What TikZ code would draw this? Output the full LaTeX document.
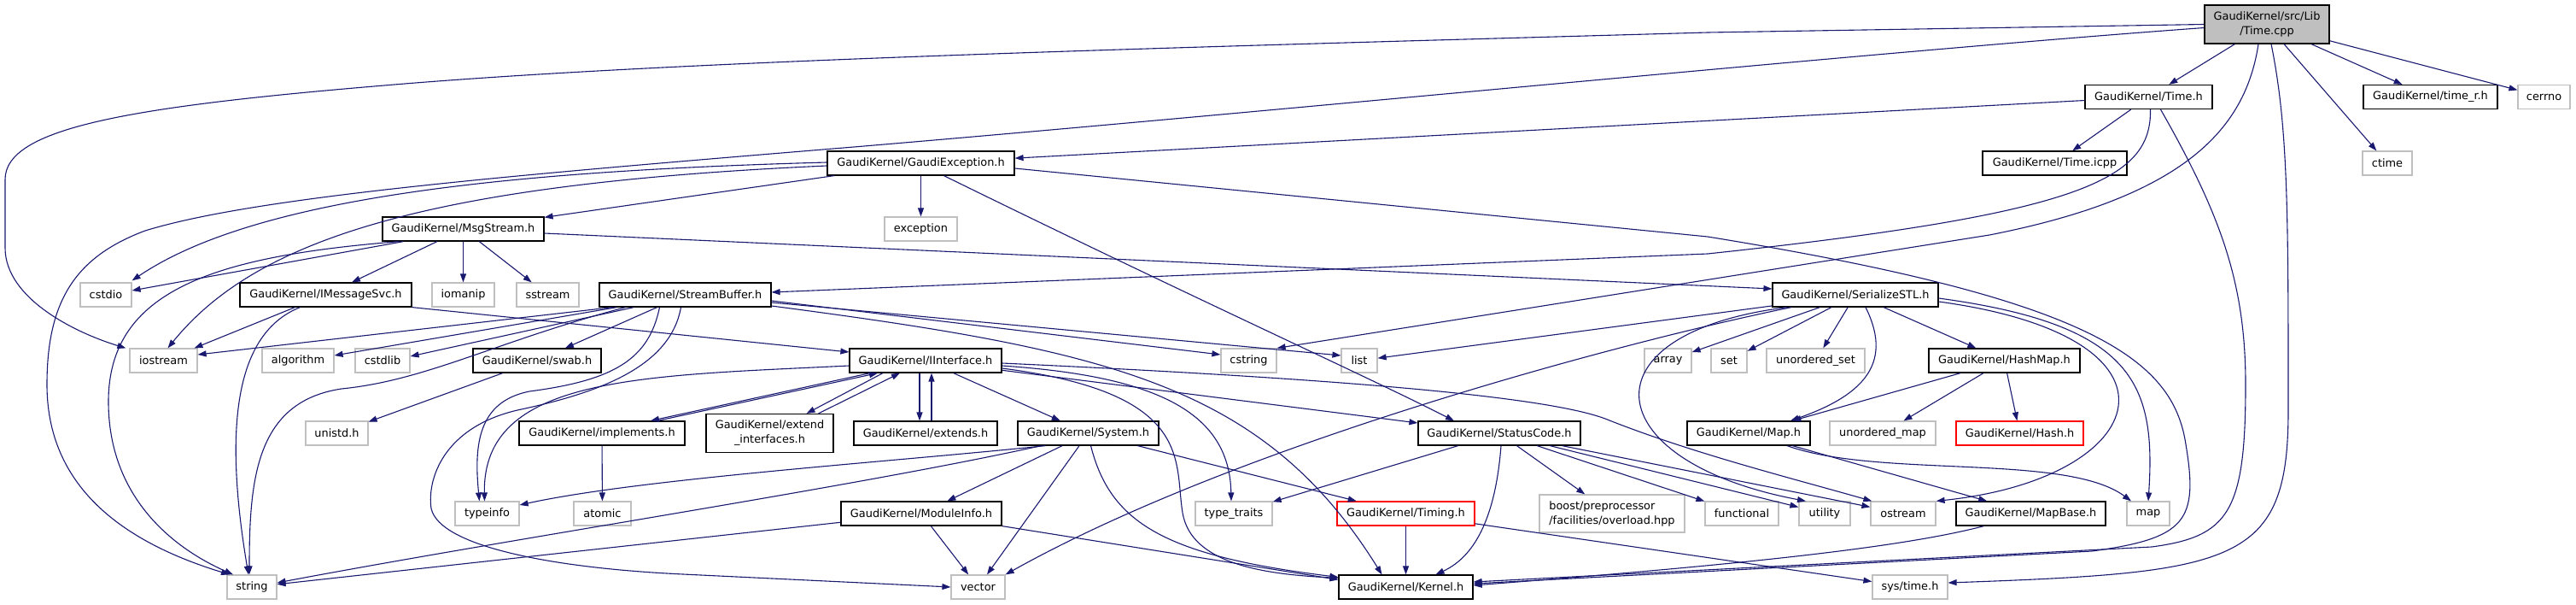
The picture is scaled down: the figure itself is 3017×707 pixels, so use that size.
\documentclass[tikz,border=0pt]{standalone}
\usepackage{fontspec}
\setmainfont{DejaVu Sans}
\usetikzlibrary{arrows.meta}
\definecolor{edgeblue}{HTML}{191970}
\definecolor{boxgrey}{HTML}{BFBFBF}
\newcommand\labelfont{\fontsize{12.9}{17}\selectfont}
\tikzset{
	box/.style={line width=1.2pt, fill=white, minimum height=28pt, inner sep=0pt, font=\labelfont, align=center},
	docnode/.style={box, draw=black},
	sysnode/.style={box, draw=boxgrey},
	rednode/.style={box, draw=red},
	rootnode/.style={box, draw=black, fill=boxgrey, minimum height=45pt},
	dep/.style={draw=edgeblue, line width=1.1pt, -{Triangle[length=10pt,width=7pt]}}
}

\begin{document}
\begin{tikzpicture}[x=1pt, y=-1pt]
		%%%%% START %%%%%
		\useasboundingbox (0,0) rectangle (3017,707);
		
		\node[rootnode, minimum width=146pt] (rt) at (2655,28.5) {GaudiKernel/src/Lib\\/Time.cpp};
		
		\node[docnode, minimum width=149pt] (timeh) at (2516.5,113.5) {GaudiKernel/Time.h};
		\node[docnode, minimum width=157pt] (timer) at (2846.5,113.5) {GaudiKernel/time\_r.h};
		\node[sysnode, minimum width=61pt] (cerrno) at (2979.5,113.5) {cerrno};
		
		\node[docnode, minimum width=169pt] (ticpp) at (2406.5,191) {GaudiKernel/Time.icpp};
		\node[sysnode, minimum width=58pt] (ctime) at (2796,191) {ctime};
		\node[docnode, minimum width=219pt] (ge) at (1078.5,191) {GaudiKernel/GaudiException.h};
		
		\node[docnode, minimum width=189pt] (msg) at (542.5,268) {GaudiKernel/MsgStream.h};
		\node[sysnode, minimum width=85pt] (exc) at (1078.5,268) {exception};
		
		\node[sysnode, minimum width=60pt] (cstdio) at (124,345) {cstdio};
		\node[docnode, minimum width=201pt] (ims) at (381.5,345) {GaudiKernel/IMessageSvc.h};
		\node[sysnode, minimum width=73pt] (iomanip) at (542.5,345) {iomanip};
		\node[sysnode, minimum width=73pt] (sstream) at (641.5,345) {sstream};
		\node[docnode, minimum width=201pt] (sb) at (802.5,345) {GaudiKernel/StreamBuffer.h};
		\node[docnode, minimum width=194pt] (sstl) at (2173,345) {GaudiKernel/SerializeSTL.h};
		
		\node[sysnode, minimum width=79pt] (iostream) at (191.5,422) {iostream};
		\node[sysnode, minimum width=84pt] (algo) at (349,422) {algorithm};
		\node[sysnode, minimum width=64pt] (cstdlib) at (448,422) {cstdlib};
		\node[docnode, minimum width=150pt] (swab) at (629,422) {GaudiKernel/swab.h};
		\node[docnode, minimum width=178pt] (ii) at (1084,422) {GaudiKernel/IInterface.h};
		\node[sysnode, minimum width=65pt] (cstring) at (1462.5,422) {cstring};
		\node[sysnode, minimum width=42pt] (list) at (1592,422) {list};
		\node[sysnode, minimum width=55pt] (array) at (1953.5,422) {array};
		\node[sysnode, minimum width=42pt] (set) at (2025,422) {set};
		\node[sysnode, minimum width=115pt] (uset) at (2126.5,422) {unordered\_set};
		\node[docnode, minimum width=177pt] (hmap) at (2347.5,422) {GaudiKernel/HashMap.h};
		
		\node[sysnode, minimum width=73pt] (unistd) at (394.5,507) {unistd.h};
		\node[docnode, minimum width=194pt] (impl) at (705,507) {GaudiKernel/implements.h};
		\node[docnode, minimum width=149pt, minimum height=45pt] (extif) at (901.5,507) {GaudiKernel/extend\\\_interfaces.h};
		\node[docnode, minimum width=168pt] (extends) at (1084,507) {GaudiKernel/extends.h};
		\node[docnode, minimum width=165pt] (sys) at (1274.5,507) {GaudiKernel/System.h};
		\node[docnode, minimum width=190pt] (sc) at (1756,507) {GaudiKernel/StatusCode.h};
		\node[docnode, minimum width=144pt] (maph) at (2048,507) {GaudiKernel/Map.h};
		\node[sysnode, minimum width=124pt] (umap) at (2205,507) {unordered\_map};
		\node[rednode, minimum width=149pt] (hash) at (2365.5,507) {GaudiKernel/Hash.h};
		
		\node[sysnode, minimum width=75pt] (typeinfo) at (570.5,601) {typeinfo};
		\node[sysnode, minimum width=67pt] (atomic) at (705.5,601) {atomic};
		\node[docnode, minimum width=188pt] (mi) at (1079,601) {GaudiKernel/ModuleInfo.h};
		\node[sysnode, minimum width=90pt] (ttraits) at (1445,601) {type\_traits};
		\node[rednode, minimum width=161pt] (timing) at (1646.5,601) {GaudiKernel/Timing.h};
		\node[sysnode, minimum width=170pt, minimum height=44pt, align=left] (boost) at (1888,601) {boost/preprocessor\\/facilities/overload.hpp};
		\node[sysnode, minimum width=86pt] (func) at (2040,601) {functional};
		\node[sysnode, minimum width=60pt] (utility) at (2137,601) {utility};
		\node[sysnode, minimum width=76pt] (ostream) at (2229,601) {ostream};
		\node[docnode, minimum width=175pt] (mapbase) at (2378.5,601) {GaudiKernel/MapBase.h};
		\node[sysnode, minimum width=50pt] (map) at (2516,601) {map};
		
		\node[sysnode, minimum width=58pt] (string) at (295,687) {string};
		\node[sysnode, minimum width=63pt] (vector) at (1145.5,687) {vector};
		\node[docnode, minimum width=157pt] (kernel) at (1646.5,687) {GaudiKernel/Kernel.h};
		\node[sysnode, minimum width=88pt] (systime) at (2237,687) {sys/time.h};
		
		% Time.cpp
		\draw[dep] (rt) -- (timeh);
		\draw[dep] (rt) -- (ctime);
		\draw[dep] (rt) -- (timer);
		\draw[dep] (rt) -- (cerrno);
		\draw[dep] (rt.west) -- (2000,38) .. controls (1400,55) and (800,70) .. (450,100) .. controls (150,125) and (6,150) .. (6,210) -- (6,290) .. controls (6,350) and (90,390) .. ([xshift=-4pt]iostream.north west);
		\draw[dep] ([yshift=-4pt]rt.west) .. controls (2200,60) and (1500,130) .. (1000,172) .. controls (600,205) and (300,230) .. (170,270) .. controls (90,300) and (55,350) .. (55,450) .. controls (55,560) and (130,630) .. ([xshift=-26pt]string.north);
		\draw[dep] ([xshift=-10pt]rt.south) .. controls (2630,150) and (2560,230) .. (2330,275) -- (cstring.north east);
		\draw[dep] ([xshift=5pt]rt.south) .. controls (2680,150) and (2680,250) .. (2680,480) .. controls (2680,660) and (2620,670) .. ([yshift=5pt]systime.east);
		
		% Time.h
		\draw[dep] (timeh) -- (ge);
		\draw[dep] (timeh) -- (ticpp);
		\draw[dep] ([xshift=2pt]timeh.south) .. controls (2520,210) and (2440,250) .. (2000,297) -- ([yshift=3pt]sb.east);
		\draw[dep] ([xshift=14pt]timeh.south) .. controls (2600,250) and (2630,330) .. (2630,450) .. controls (2630,600) and (2610,628) .. (2520,640) -- ([yshift=6pt]kernel.east);
		
		% GaudiException.h
		\draw[dep] ([yshift=1pt]ge.west) .. controls (600,200) and (300,230) .. ([yshift=2pt]cstdio.north east);
		\draw[dep] ([yshift=-3pt]ge.west) .. controls (500,215) and (300,280) .. ([xshift=5pt]iostream.north);
		\draw[dep] (ge) -- (msg);
		\draw[dep] (ge) -- (exc);
		\draw[dep] ([xshift=27pt]ge.south) .. controls (1400,350) and (1600,440) .. ([xshift=-53pt]sc.north);
		\draw[dep] ([yshift=-6pt]ge.east) -- (2000,277) .. controls (2450,350) and (2545,420) .. (2560,520) .. controls (2575,610) and (2560,630) .. (2450,645) -- ([yshift=4pt]kernel.east);
		
		% MsgStream.h
		\draw[dep] ([xshift=-70pt]msg.south) -- ([yshift=5pt]cstdio.east);
		\draw[dep] ([xshift=-75pt]msg.south) .. controls (250,300) and (127,340) .. (127,470) .. controls (127,580) and (200,640) .. ([xshift=-22pt]string.north);
		\draw[dep] (msg) -- (ims);
		\draw[dep] (msg) -- (iomanip);
		\draw[dep] (msg) -- (sstream);
		\draw[dep] ([yshift=-5pt]msg.east) -- ([yshift=7pt]sstl.west);
		
		% IMessageSvc.h
		\draw[dep] (ims) -- (iostream);
		\draw[dep] ([xshift=-30pt]ims.south) .. controls (275,390) and (262,500) .. ([xshift=-4pt]string.north);
		\draw[dep] (ims.south east) -- ([yshift=10pt]ii.west);
		
		% StreamBuffer.h
		\draw[dep] ([xshift=-85pt]sb.south) -- ([yshift=7pt]iostream.east);
		\draw[dep] ([xshift=-80pt]sb.south) -- ([yshift=6pt]algo.east);
		\draw[dep] ([xshift=-60pt]sb.south) -- ([yshift=5pt]cstdlib.east);
		\draw[dep] ([xshift=-70pt]sb.south) .. controls (580,400) and (500,445) .. (400,455) .. controls (300,470) and (292,560) .. ([xshift=-3pt]string.north);
		\draw[dep] (sb) -- (swab);
		\draw[dep] ([xshift=-30pt]sb.south) .. controls (760,420) and (720,445) .. (620,458) .. controls (560,470) and (555,520) .. ([xshift=-9pt]typeinfo.north);
		\draw[dep] ([xshift=-5pt]sb.south) .. controls (785,430) and (700,460) .. (606,480) .. controls (520,500) and (500,560) .. (505,595) .. controls (515,640) and (650,665) .. (800,672) -- (vector.west);
		\draw[dep] ([yshift=-7pt]sb.east) -- ([yshift=7pt]cstring.west);
		\draw[dep] ([yshift=-9pt]sb.east) -- ([yshift=6pt]list.west);
		\draw[dep] ([yshift=-13pt]sb.east) .. controls (1300,410) and (1480,450) .. ([xshift=-28pt]kernel.north);
		
		% IInterface.h
		\draw[dep] ([xshift=-65pt]ii.south) -- ([xshift=57pt]impl.north);
		\draw[dep] ([xshift=65pt]impl.north) -- ([xshift=-56pt]ii.south);
		\draw[dep] ([xshift=-50pt]ii.south) -- ([xshift=43pt]extif.north);
		\draw[dep] ([xshift=57pt]extif.north) -- ([xshift=-30pt]ii.south);
		\draw[dep] ([xshift=-7pt]ii.south) -- ([xshift=-7pt]extends.north);
		\draw[dep] ([xshift=7pt]extends.north) -- ([xshift=7pt]ii.south);
		\draw[dep] (ii) -- (sys);
		\draw[dep] (ii) -- (sc);
		\draw[dep] ([yshift=-6pt]ii.east) .. controls (1350,440) and (1440,480) .. ([xshift=-3pt]ttraits.north);
		\draw[dep] ([yshift=-9pt]ii.east) .. controls (1400,460) and (1375,540) .. (1385,600) .. controls (1395,660) and (1480,672) .. ([yshift=-4pt]kernel.north west);
		\draw[dep] ([yshift=-3pt]ii.east) .. controls (1500,440) and (1800,460) .. (1880,490) .. controls (1980,530) and (2100,560) .. ([xshift=2pt]ostream.north west);
		\draw[dep] ([yshift=-6pt]ii.west) .. controls (750,440) and (565,440) .. ([xshift=-3pt]typeinfo.north);
		
		% System.h
		\draw[dep] ([xshift=-50pt]sys.south) .. controls (1050,540) and (750,560) .. ([yshift=10pt]typeinfo.east);
		\draw[dep] ([xshift=-55pt]sys.south) .. controls (1000,570) and (600,630) .. ([yshift=5pt]string.east);
		\draw[dep] (sys) -- (mi);
		\draw[dep] (sys) -- (vector);
		\draw[dep] ([xshift=3pt]sys.south) .. controls (1300,610) and (1360,650) .. ([yshift=-3pt]kernel.north west);
		\draw[dep] (sys) -- (timing);
		
		% ModuleInfo.h
		\draw[dep] (mi) -- (string);
		\draw[dep] (mi) -- (vector);
		\draw[dep] (mi.south east) -- ([yshift=-6pt]kernel.north west);
		
		% StatusCode.h
		\draw[dep] (sc) -- (ttraits);
		\draw[dep] (sc) -- (boost);
		\draw[dep] (sc) -- (func);
		\draw[dep] (sc) -- (utility);
		\draw[dep] (sc) -- (ostream);
		\draw[dep] ([xshift=2pt]sc.south) .. controls (1752,600) and (1730,650) .. ([xshift=35pt]kernel.north);
		
		% Timing.h, implements.h, swab.h
		\draw[dep] (timing) -- (kernel);
		\draw[dep] (timing) -- (systime);
		\draw[dep] (impl) -- (atomic);
		\draw[dep] (swab) -- (unistd);
		
		% SerializeSTL.h
		\draw[dep] (sstl) -- (list);
		\draw[dep] ([xshift=-75pt]sstl.south) .. controls (1900,400) and (1450,520) .. (vector.north east);
		\draw[dep] (sstl) -- (array);
		\draw[dep] (sstl) -- (set);
		\draw[dep] (sstl) -- (uset);
		\draw[dep] (sstl) -- (hmap);
		\draw[dep] ([xshift=12pt]sstl.south) .. controls (2215,420) and (2190,460) .. ([xshift=49pt]maph.north);
		\draw[dep] ([xshift=-80pt]sstl.south) .. controls (1850,390) and (1870,540) .. ([xshift=-22pt]utility.north);
		\draw[dep] ([yshift=-8pt]sstl.east) .. controls (2580,395) and (2520,560) .. (ostream.north east);
		\draw[dep] ([yshift=-4pt]sstl.east) .. controls (2500,380) and (2525,450) .. (map.north);
		
		% HashMap.h, Map.h, MapBase.h
		\draw[dep] (hmap) -- (maph);
		\draw[dep] (hmap) -- (umap);
		\draw[dep] (hmap) -- (hash);
		\draw[dep] (maph) -- (mapbase);
		\draw[dep] ([xshift=45pt]maph.south) .. controls (2200,560) and (2420,530) .. ([xshift=-20pt]map.north);
		\draw[dep] ([xshift=-55pt]mapbase.south) .. controls (2230,640) and (2050,660) .. ([yshift=2pt]kernel.east);
		
		%%%%% END %%%%%
\end{tikzpicture}
\end{document}
